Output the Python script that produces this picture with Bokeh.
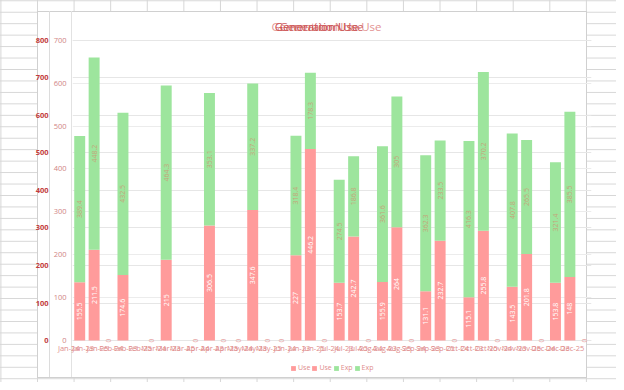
import math
from bokeh.plotting import figure
from bokeh.layouts import column
from bokeh.models import (FactorRange, Range1d, LinearAxis, FixedTicker, Legend, LegendItem,
                          Label, ColumnDataSource, Grid)
from bokeh.core.properties import value
from bokeh.embed import file_html
from bokeh.resources import INLINE

# ---------------- data ----------------
months = ["Jan", "Feb", "Mar", "Apr", "May", "Jun", "Jul", "Aug", "Sep", "Oct", "Nov", "Dec"]
years = ["24", "23", "25"]

use_24 = [155.5, 174.6, 215, 306.5, 347.6, 227, 153.7, 155.9, 131.1, 115.1, 143.5, 153.8]
exp_24 = [389.4, 432.5, 464.3, 353.1, 337.2, 318.4, 274.5, 361.6, 362.3, 416.3, 407.8, 321.4]
use_23 = [211.5, None, None, 0, 0, 446.2, 242.7, 264, 232.7, 255.8, 201.8, 148]
exp_23 = [448.2, None, None, 0, 0, 178.3, 186.8, 305, 233.5, 370.2, 265.5, 385.5]
use_25 = [0] * 12
exp_25 = [0] * 12

ticks_a = [0, 100, 200, 300, 400, 500, 600, 700, 800]
ticks_b = [0, 100, 200, 300, 400, 500, 600, 700]

title_use = "Generation Use"
title_nonuse = "Generation Non-Use"
legend_labels = ["Use", "Exp"]

# ---------------- styles ----------------
RED = "#ff9b9b"
GREEN = "#9de59d"
FONT = "Open Sans"
factors = [f"{m}-{y}" for m in months for y in years]

W = 616
H_MAIN, H_LEG = 360, 22
FL, FR, FT, FB = 72, 25, 12, 13            # main frame borders (px)
frame_h = H_MAIN - FT - FB                  # 335
gap_bottom = 4                              # px from y=0 to frame bottom
gap_top = 28                                # px from top tick to frame top
span = frame_h - gap_bottom - gap_top       # px for the tick span
a_max, b_max = ticks_a[-1], ticks_b[-1]
a_rng = Range1d(-a_max * gap_bottom / span, a_max + a_max * gap_top / span)
b_rng = Range1d(-b_max * gap_bottom / span, b_max + b_max * gap_top / span)

# spreadsheet-like page backdrop (pure styling)
sheet_bg = ", ".join([
    "linear-gradient(#dcdcdc,#dcdcdc) 49px 11px / 1px 366px no-repeat",
    "linear-gradient(#e2e2e2,#e2e2e2) 71px 11px / 1px 366px no-repeat",
    "linear-gradient(#ffffff,#ffffff) 38px 12px / 548px 365px no-repeat",
    "linear-gradient(#d0d0d0,#d0d0d0) 37px 11px / 550px 367px no-repeat",
    "linear-gradient(to right, #d6d6d6 1px, transparent 1px) 0.4px 0 / 36.6px 100%",
    "linear-gradient(to bottom, #d6d6d6 1px, transparent 1px) 0 0.3px / 100% 11.46px",
    "#ffffff",
])

p = figure(x_range=FactorRange(factors=factors, range_padding=0), y_range=b_rng,
           width=W, height=H_MAIN, output_backend="svg", toolbar_location=None,
           min_border_left=FL, min_border_right=FR, min_border_top=FT, min_border_bottom=FB,
           background_fill_alpha=0, border_fill_alpha=0)
p.title.visible = False
p.outline_line_color = None
p.extra_y_ranges = {"a": a_rng}

def style_y(ax, standoff, color, bold=False):
    ax.axis_line_color = None
    ax.major_tick_line_color = None
    ax.minor_tick_line_color = None
    ax.major_tick_out = 0
    ax.major_tick_in = 0
    ax.minor_tick_out = 0
    ax.minor_tick_in = 0
    ax.major_label_standoff = standoff
    ax.major_label_text_font = FONT
    ax.major_label_text_font_size = "7.5px"
    ax.major_label_text_color = color
    if bold:
        ax.major_label_text_font_style = "bold"

# inner axis (0-700)
ax_b = p.yaxis[0]
ax_b.ticker = FixedTicker(ticks=ticks_b)
style_y(ax_b, 6, "#d08585")

# outer axis (0-800)
ax_a = LinearAxis(y_range_name="a", ticker=FixedTicker(ticks=ticks_a))
style_y(ax_a, 2, "#c23b3b", bold=True)
ax_a.axis_label = " "                     # empty spacer keeps the axes packed to the frame
ax_a.axis_label_standoff = 18
ax_a.axis_label_text_font_size = "9px"
p.add_layout(ax_a, "left")

p.ygrid.grid_line_color = "#ececec"
p.xgrid.grid_line_color = None
p.add_layout(Grid(dimension=1, ticker=FixedTicker(ticks=ticks_a), y_range_name="a",
                  grid_line_color="#e6e6e6"))

xa = p.xaxis[0]
xa.axis_line_color = None
xa.major_tick_line_color = None
xa.major_tick_out = 0
xa.major_tick_in = 0
xa.major_label_standoff = 3
xa.major_label_orientation = 0
xa.major_label_text_font = FONT
xa.major_label_text_font_size = "7.5px"
xa.major_label_text_color = "#e08c8c"

# ---------------- bars ----------------
def add_year(year, use, exp, rng):
    xs, u, e = [], [], []
    for m, uv, ev in zip(months, use, exp):
        if uv is None:
            continue
        xs.append(f"{m}-{year}")
        u.append(uv)
        e.append(ev)
    top = [a + b for a, b in zip(u, e)]
    src = ColumnDataSource(dict(x=xs, use=u, exp=e, top=top))
    nz = dict(y_range_name=rng) if rng else {}
    p.vbar(x="x", bottom=0, top="use", width=0.76, source=src, fill_color=RED,
           line_color=None, **nz)
    p.vbar(x="x", bottom="use", top="top", width=0.76, source=src, fill_color=GREEN,
           line_color=None, **nz)
    keep_u = [i for i, v in enumerate(u) if v > 0]
    keep_e = [i for i, v in enumerate(e) if v > 0]
    lu = ColumnDataSource(dict(x=[xs[i] for i in keep_u], y=[u[i] / 2 for i in keep_u],
                               t=[f"{u[i]:g}" for i in keep_u]))
    le = ColumnDataSource(dict(x=[xs[i] for i in keep_e], y=[u[i] + e[i] / 2 for i in keep_e],
                               t=[f"{e[i]:g}" for i in keep_e]))
    p.text(x="x", y="y", text="t", source=lu, angle=math.pi / 2, text_align="center",
           text_baseline="middle", text_font=value(FONT), text_font_size="7px",
           text_color="white", **nz)
    p.text(x="x", y="y", text="t", source=le, angle=math.pi / 2, text_align="center",
           text_baseline="middle", text_font=value(FONT), text_font_size="7px",
           text_color="#c4a57a", **nz)
    zero = [i for i, v in enumerate(u) if v == 0]
    lz = ColumnDataSource(dict(x=[xs[i] for i in zero], y=[0 for i in zero],
                               t=[f"{u[i]:g}" for i in zero]))
    p.text(x="x", y="y", text="t", source=lz, angle=math.pi / 2, text_align="center",
           text_baseline="middle", text_font=value(FONT), text_font_size="6.5px",
           text_color="#e59a9a", **nz)

add_year("24", use_24, exp_24, "a")
add_year("23", use_23, exp_23, None)
add_year("25", use_25, exp_25, None)

# ---------------- titles (inside the extended frame) ----------------
for txt, dx, col in [(title_nonuse, 254, "#e39393"), (title_use, 244, "#c94a4a"),
                     (title_use, 249, "#d06060")]:
    p.add_layout(Label(x=dx, y=frame_h - 17, x_units="screen", y_units="screen", text=txt,
                       text_align="center", text_baseline="middle", text_font=FONT,
                       text_font_size="11.5px", text_color=col))

# ---------------- legend strip ----------------
q = figure(width=W, height=H_LEG, output_backend="svg", toolbar_location=None,
           x_axis_location=None, y_axis_location=None, min_border=0,
           background_fill_alpha=0, border_fill_alpha=0,
           x_range=Range1d(0, 1), y_range=Range1d(0, 1))
q.title.visible = False
q.outline_line_color = None
q.grid.visible = False
swatches = []
for col in [RED, RED, GREEN, GREEN]:
    # zero-height placeholder bar, used only for the legend swatch
    swatches.append(q.vbar(x=[0.5], top=[0], width=0.01, fill_color=col, line_color=None))
lg = Legend(items=[LegendItem(label=legend_labels[0], renderers=[swatches[0]]),
                   LegendItem(label=legend_labels[0], renderers=[swatches[1]]),
                   LegendItem(label=legend_labels[1], renderers=[swatches[2]]),
                   LegendItem(label=legend_labels[1], renderers=[swatches[3]])],
            location=(218, 10), orientation="horizontal",
            background_fill_alpha=0, border_line_color=None, padding=0, margin=0,
            spacing=1, glyph_width=6, glyph_height=6, label_standoff=2, label_width=0,
            label_text_font=FONT, label_text_font_size="7px",
            label_text_color="#e08c8c", label_height=8)
q.add_layout(lg)

page = column(p, q, spacing=0, styles={"background": sheet_bg})
open("out.html", "w").write(file_html(page, INLINE))
